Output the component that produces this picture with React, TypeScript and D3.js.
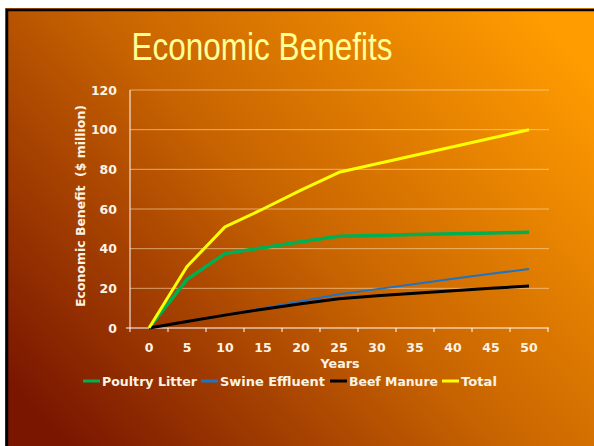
import React from "react";
import * as d3 from "d3";

const years = ["0", "5", "10", "15", "20", "25", "30", "35", "40", "45", "50"];
const poultryLitter = [0, 24.5, 37.5, 40.5, 43.5, 46.3, 46.7, 47.1, 47.5, 47.9, 48.3];
const swineEffluent = [0, 3.3, 6.5, 10, 13.5, 17, 19.6, 22.2, 24.8, 27.3, 29.8];
const beefManure = [0, 3.3, 6.5, 9.5, 12.2, 14.8, 16.2, 17.5, 18.8, 20, 21.2];
const total = [0, 31, 51, 60, 69.5, 78.5, 82.8, 87.1, 91.4, 95.7, 100];
const yTicks = [0, 20, 40, 60, 80, 100, 120];

const series = [
  { name: "Poultry Litter", values: poultryLitter, color: "#00b050", width: 3.5 },
  { name: "Swine Effluent", values: swineEffluent, color: "#1f72c4", width: 2 },
  { name: "Beef Manure", values: beefManure, color: "#000000", width: 3 },
  { name: "Total", values: total, color: "#ffff00", width: 3 },
];

const W = 594;
const H = 446;
const left = 130, right = 548, top = 90, bottom = 328;

export default function App() {
  const x = d3.scaleBand<string>().domain(years).range([left, right]).padding(0);
  const y = d3.scaleLinear().domain([0, 120]).range([bottom, top]);
  const cx = (c: string) => (x(c) as number) + x.bandwidth() / 2;
  const line = d3
    .line<number>()
    .x((_, i) => cx(years[i]))
    .y((v) => y(v));
  const font = "'DejaVu Sans', Verdana, sans-serif";
  const textColor = "#fbf3e4";

  const legendItems = [
    { sx: 83, tx: 102, w: 95 },
    { sx: 201, tx: 220, w: 105 },
    { sx: 330, tx: 349, w: 89 },
    { sx: 442, tx: 461, w: 36 },
  ];

  return (
    <svg
      width={W}
      height={H}
      style={{ position: "absolute", left: 0, top: 0, display: "block" }}
    >
      <defs>
        <linearGradient id="bg" x1="0" y1="0.85" x2="1" y2="0.15">
          <stop offset="0" stopColor="#7a1600" />
          <stop offset="0.5" stopColor="#c86400" />
          <stop offset="1" stopColor="#ff9c00" />
        </linearGradient>
      </defs>
      <rect x={0} y={0} width={W} height={H} fill="#ffffff" />
      <rect x={5} y={8} width={W - 5} height={H - 8} fill="url(#bg)" />
      <line x1={7} y1={9} x2={7} y2={H} stroke="#000" strokeWidth={2.5} />
      <line x1={6} y1={10} x2={W} y2={10} stroke="#000" strokeWidth={2.5} />

      <text
        x={262}
        y={60}
        textAnchor="middle"
        fill="#ffff99"
        fontFamily="'Liberation Sans', Arial, sans-serif"
        fontSize={38}
        textLength={261}
        lengthAdjust="spacingAndGlyphs"
      >
        Economic Benefits
      </text>

      {yTicks.slice(1).map((t) => (
        <line
          key={"g" + t}
          x1={left}
          x2={549}
          y1={y(t)}
          y2={y(t)}
          stroke="#ffe0b0"
          strokeOpacity={0.6}
          strokeWidth={1}
        />
      ))}

      <line x1={left} x2={left} y1={top} y2={bottom} stroke="#ffffff" strokeWidth={1} />
      <line x1={126} x2={549} y1={bottom} y2={bottom} stroke="#ffffff" strokeWidth={1} />
      {d3.range(years.length + 1).map((i) => {
        const px = left + i * x.bandwidth();
        return (
          <line key={"t" + i} x1={px} x2={px} y1={bottom} y2={bottom + 4} stroke="#ffffff" strokeWidth={1} />
        );
      })}

      {yTicks.map((t) => (
        <text
          key={"y" + t}
          x={117}
          y={y(t) + 4.5}
          textAnchor="end"
          fill={textColor}
          fontFamily={font}
          fontWeight="bold"
          fontSize={12.5}
        >
          {t}
        </text>
      ))}
      {years.map((c) => (
        <text
          key={"x" + c}
          x={cx(c)}
          y={351.5}
          textAnchor="middle"
          fill={textColor}
          fontFamily={font}
          fontWeight="bold"
          fontSize={12.5}
        >
          {c}
        </text>
      ))}

      <text
        x={340}
        y={368}
        textAnchor="middle"
        fill={textColor}
        fontFamily={font}
        fontWeight="bold"
        fontSize={12}
        textLength={39}
        lengthAdjust="spacingAndGlyphs"
      >
        Years
      </text>
      <text
        transform={`translate(85,206) rotate(-90)`}
        textAnchor="middle"
        fill={textColor}
        fontFamily={font}
        fontWeight="bold"
        fontSize={11.5}
        xmlSpace="preserve"
        textLength={202}
        lengthAdjust="spacingAndGlyphs"
      >
        {"Economic Benefit  ($ million)"}
      </text>

      {series.map((s) => (
        <path
          key={s.name}
          d={line(s.values) || ""}
          fill="none"
          stroke={s.color}
          strokeWidth={s.width}
          strokeLinejoin="round"
        />
      ))}

      {series.map((s, i) => (
        <g key={"l" + s.name}>
          <line
            x1={legendItems[i].sx}
            x2={legendItems[i].sx + 17}
            y1={381}
            y2={381}
            stroke={s.color}
            strokeWidth={3}
          />
          <text
            x={legendItems[i].tx}
            y={385.5}
            fill={textColor}
            fontFamily={font}
            fontWeight="bold"
            fontSize={12}
            textLength={legendItems[i].w}
            lengthAdjust="spacingAndGlyphs"
          >
            {s.name}
          </text>
        </g>
      ))}
    </svg>
  );
}
